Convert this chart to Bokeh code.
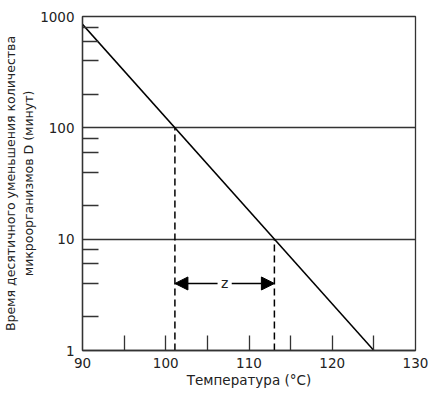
from bokeh.plotting import figure
from bokeh.models import FixedTicker, Arrow, NormalHead, Label, PrintfTickFormatter
from bokeh.embed import file_html
from bokeh.resources import INLINE

# data
temp_line = [90, 125]
dtime_line = [850, 1]
y_major = [1, 10, 100, 1000]
y_minor = [2, 4, 6, 8, 20, 40, 60, 80, 200, 400, 600, 800]
x_major = [90, 100, 110, 120, 130]
x_minor = [95, 100, 105, 110, 115, 120, 125]
grid_levels = [10, 100]
d_levels = [100, 10]
cross_temp = [101.1, 113.05]
arrow_level = 4.0
z_text = "z"
x_title = "Температура (°C)"
y_title = "Время десятичного уменьшения количества\nмикроорганизмов D (минут)"

FONT = "DejaVu Sans"
DARK = "#333333"

p = figure(width=435, height=394, x_range=(90, 130), y_range=(1, 1000),
           y_axis_type="log", output_backend="svg", toolbar_location=None,
           min_border_left=80, min_border_right=20, min_border_top=16,
           min_border_bottom=44)
p.background_fill_color = "white"
p.border_fill_color = "white"
p.outline_line_color = DARK
p.outline_line_width = 1.3

p.xgrid.visible = False
p.ygrid.ticker = FixedTicker(ticks=grid_levels)
p.ygrid.grid_line_color = DARK
p.ygrid.grid_line_alpha = 1
p.ygrid.grid_line_width = 1.3

for ax, maj, mnr, tin in ((p.xaxis[0], x_major, x_minor, 15), (p.yaxis[0], y_major, y_minor, 16)):
    ax.ticker = FixedTicker(ticks=maj, minor_ticks=mnr)
    ax.major_tick_in = 0
    ax.major_tick_out = 0
    ax.minor_tick_in = tin
    ax.minor_tick_out = 0
    ax.minor_tick_line_color = DARK
    ax.minor_tick_line_width = 1.3
    ax.axis_line_color = DARK
    ax.axis_line_width = 1.3
    ax.major_label_text_font = FONT
    ax.major_label_text_font_size = "13.5px"
    ax.major_label_text_color = "#222222"
    ax.axis_label_text_font = FONT
    ax.axis_label_text_font_style = "normal"
    ax.axis_label_text_color = "#222222"

p.yaxis[0].axis_label_text_font_size = "12.5px"
p.xaxis[0].axis_label_text_font_size = "13.5px"
p.yaxis[0].formatter = PrintfTickFormatter(format="%d")
p.xaxis[0].axis_label = x_title
p.yaxis[0].axis_label = y_title
p.xaxis[0].major_label_standoff = 7
p.xaxis[0].axis_label_standoff = 1
p.yaxis[0].major_label_standoff = 8
p.yaxis[0].axis_label_standoff = 1

p.line(temp_line, dtime_line, line_color="black", line_width=1.5)
p.segment(x0=cross_temp, y0=[1, 1], x1=cross_temp, y1=d_levels,
          line_color="black", line_width=1.5, line_dash="7 4")

mid = (cross_temp[0] + cross_temp[1]) / 2
for xe, xs in ((cross_temp[0], mid - 0.85), (cross_temp[1], mid + 0.85)):
    p.add_layout(Arrow(end=NormalHead(size=13, fill_color="black", line_color="black"),
                       x_start=xs, y_start=arrow_level, x_end=xe, y_end=arrow_level,
                       line_color="black", line_width=1.5))
p.add_layout(Label(x=mid, y=arrow_level, text=z_text, text_align="center",
                   text_baseline="middle", text_font=FONT, text_font_size="14px",
                   text_color="#222222"))

open("out.html", "w").write(file_html(p, INLINE))
